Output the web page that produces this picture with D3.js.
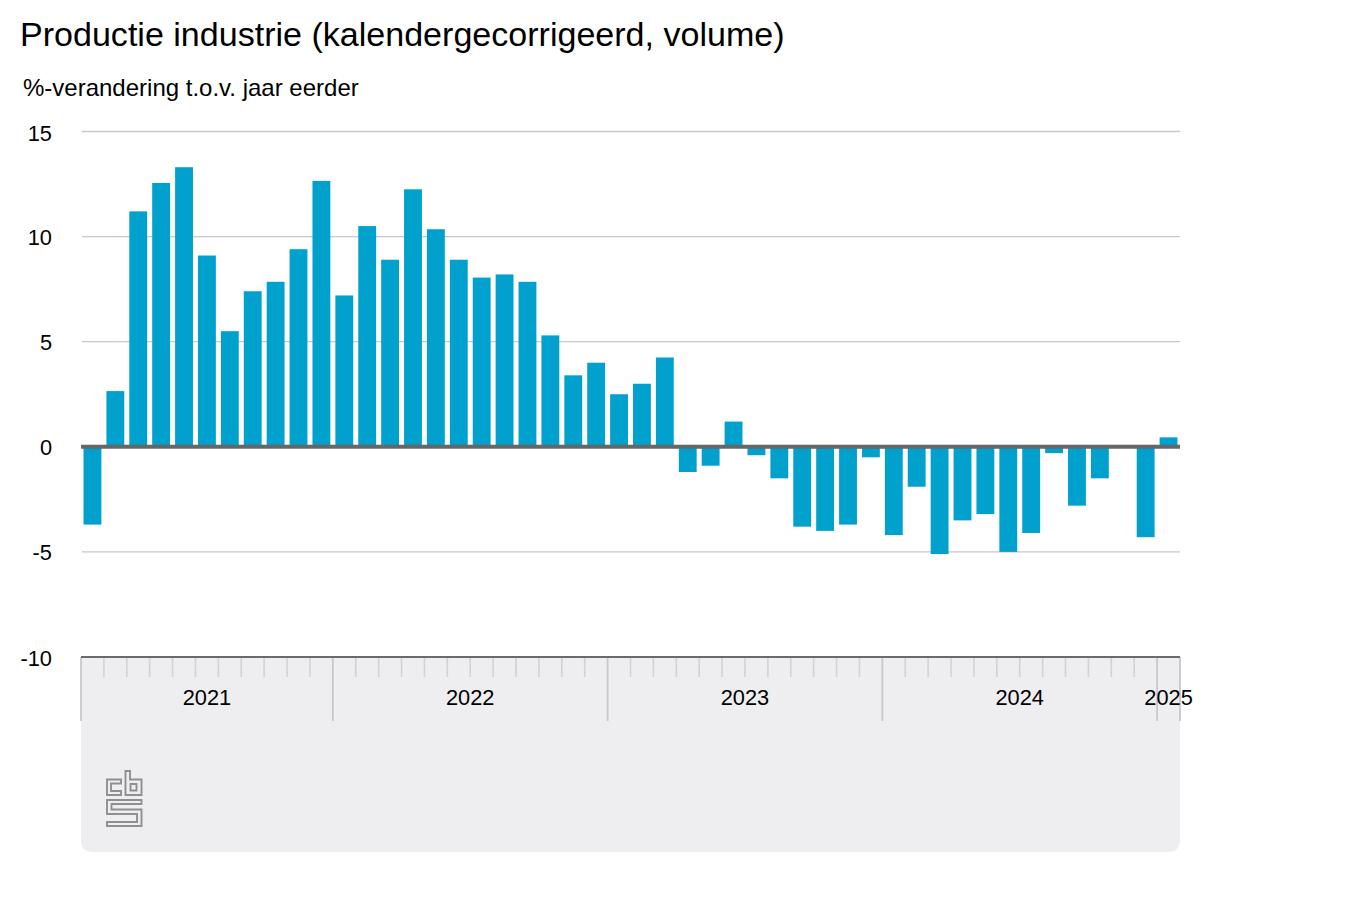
<!DOCTYPE html>
<html><head><meta charset="utf-8">
<script src="https://cdn.jsdelivr.net/npm/d3@7"></script>
<style>html,body{margin:0;background:#fff}svg{display:block}text{font-family:"Liberation Sans",Arial,sans-serif;fill:#000}</style>
</head><body><svg id="c" width="1350" height="900"></svg>
<script>
const title = "Productie industrie (kalendergecorrigeerd, volume)";
const subtitle = "%-verandering t.o.v. jaar eerder";
const months = ["2021-02","2021-03","2021-04","2021-05","2021-06","2021-07","2021-08","2021-09","2021-10","2021-11","2021-12",
"2022-01","2022-02","2022-03","2022-04","2022-05","2022-06","2022-07","2022-08","2022-09","2022-10","2022-11","2022-12",
"2023-01","2023-02","2023-03","2023-04","2023-05","2023-06","2023-07","2023-08","2023-09","2023-10","2023-11","2023-12",
"2024-01","2024-02","2024-03","2024-04","2024-05","2024-06","2024-07","2024-08","2024-09","2024-10","2024-11","2024-12",
"2025-01"];
const values = [-3.7,2.65,11.2,12.55,13.3,9.1,5.5,7.4,7.85,9.4,12.65,
7.2,10.5,8.9,12.25,10.35,8.9,8.05,8.2,7.85,5.3,3.4,4.0,
2.5,3.0,4.25,-1.2,-0.9,1.2,-0.4,-1.5,-3.8,-4.0,-3.7,-0.5,
-4.2,-1.9,-5.1,-3.5,-3.2,-5.0,-4.1,-0.3,-2.8,-1.5,0,-4.3,
0.45];
const years = ["2021","2022","2023","2024","2025"];
const yTicks = [15,10,5,0,-5,-10];

const svg = d3.select("#c");
const x = d3.scaleBand().domain(months).range([81,1180]).paddingInner(0.22).paddingOuter(0.11);
const y = d3.scaleLinear().domain([-10,15]).range([657,131.5]);
const step = x.step();
const left = m => x(m) - x.paddingInner()*step/2;

svg.append("text").attr("x",20).attr("y",46).attr("font-size",34.05).text(title);
svg.append("text").attr("x",23).attr("y",96).attr("font-size",24).text(subtitle);

// panel below the axis
const px0=81, px1=1180, py0=y(-10), py1=852, r=12;
svg.append("path").attr("fill","#eeedf0")
  .attr("d",`M${px0},${py0}H${px1}V${py1-r}Q${px1},${py1} ${px1-r},${py1}H${px0+r}Q${px0},${py1} ${px0},${py1-r}Z`);

// gridlines
svg.append("g").selectAll("line").data(yTicks.filter(d=>d!==0&&d!==-10)).join("line")
  .attr("x1",82).attr("x2",1180).attr("y1",d=>y(d)).attr("y2",d=>y(d))
  .attr("stroke","#c6c8cf").attr("stroke-width",1.3);

// y labels
svg.append("g").selectAll("text").data(yTicks).join("text")
  .attr("x",52).attr("y",d=>y(d)+ (d===15?9.5:8.5)).attr("text-anchor","end").attr("font-size",21.8).text(d=>d);

// bars
svg.append("g").selectAll("rect").data(months).join("rect")
  .attr("x",d=>x(d)).attr("width",x.bandwidth())
  .attr("y",(d,i)=>y(Math.max(0,values[i]))).attr("height",(d,i)=>Math.abs(y(values[i])-y(0)))
  .attr("fill","#00a1cd");

// zero line
svg.append("line").attr("x1",81).attr("x2",1180).attr("y1",y(0)).attr("y2",y(0)).attr("stroke","#666666").attr("stroke-width",4);

// month ticks
const isYearStart = m => m.endsWith("-01");
svg.append("g").selectAll("line").data(months.slice(1).filter(m=>!isYearStart(m))).join("line")
  .attr("x1",left).attr("x2",left).attr("y1",py0).attr("y2",677)
  .attr("stroke","#d2d2d6").attr("stroke-width",1.6);

// year ticks
const yearStart = yr => yr==="2021" ? 81 : left(yr+"-01");
const yearEnd = (yr,i) => i<years.length-1 ? yearStart(years[i+1]) : 1180;
svg.append("g").selectAll("line").data([...years.map(yearStart),1180]).join("line")
  .attr("x1",d=>d).attr("x2",d=>d).attr("y1",py0).attr("y2",721)
  .attr("stroke","#c8c8cc").attr("stroke-width",1.8);

// axis line
svg.append("line").attr("x1",81).attr("x2",1180).attr("y1",py0).attr("y2",py0).attr("stroke","#6b6b6b").attr("stroke-width",2);

// year labels
svg.append("g").selectAll("text").data(years).join("text")
  .attr("x",(d,i)=>(yearStart(d)+yearEnd(d,i))/2).attr("y",704.5).attr("text-anchor","middle").attr("font-size",21.8).text(d=>d);

// cbs logo
const logo = svg.append("g").attr("transform","translate(106,770)").attr("fill","none").attr("stroke","#8f8f91").attr("stroke-width",1.9);
logo.append("path").attr("d","M1,9.5H15V13.5H5V21H15V25H1Z");                 // c
logo.append("path").attr("d","M19.5,25V1H24V9.5H35.5V25Z M24.5,14V20.5H30.5V14Z");    // b
logo.append("path").attr("d","M1,30H35.5V34H5.5V39.5H35.5V56H1V52H31V44H1Z");         // s
</script></body></html>
